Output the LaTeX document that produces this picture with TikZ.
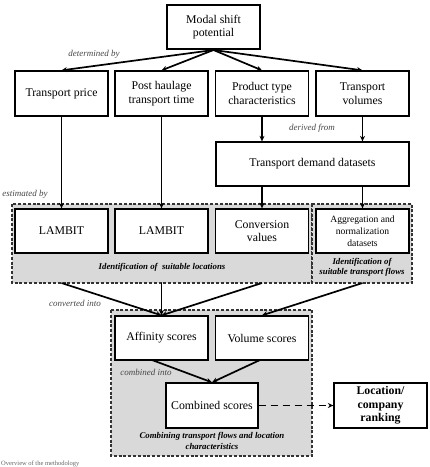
\documentclass[tikz,border=0pt]{standalone}
\usepackage{fontspec}
\setmainfont{Liberation Serif}
\usetikzlibrary{arrows.meta}
\definecolor{regfill}{RGB}{217,217,217}
\definecolor{lblcol}{RGB}{70,70,70}
\tikzset{
  box/.style={draw=black, line width=1.3pt, fill=white, minimum width=93pt, minimum height=45pt, align=center, inner sep=1pt, font=\fontsize{11.8}{13.5}\selectfont},
  region/.style={draw=black!80, line width=1.1pt, dash pattern=on 3pt off 1.8pt, fill=regfill},
  arr/.style={line width=1.7pt, -{Stealth[length=5.5pt,width=5pt]}},
  lbl/.style={font=\fontsize{9}{10}\selectfont\itshape, text=lblcol},
  rlbl/.style={font=\fontsize{8.8}{10.5}\selectfont\bfseries\itshape, align=center},
}
\begin{document}
\begin{tikzpicture}[x=1pt,y=-1pt]
\useasboundingbox (0,0) rectangle (430,467);
% regions
\draw[region] (12,204) rectangle (312,283);
\draw[region] (312,204) rectangle (412,283);
\draw[region] (111,310) rectangle (312,456);
% nodes
\node[box, minimum height=44pt] (msp) at (213.5,27) {Modal shift\\potential};
\node[box] (tp) at (61.5,93.5) {Transport price};
\node[box] (ph) at (161.5,93.5) {Post haulage\\transport time};
\node[box] (pt) at (262,93.5) {Product type\\characteristics};
\node[box] (tv) at (362.5,93.5) {Transport\\volumes};
\node[box, minimum width=193pt, minimum height=44pt] (tdd) at (312.5,164) {Transport demand datasets};
\node[box, minimum height=44pt] (l1) at (61.5,231) {LAMBIT};
\node[box, minimum height=44pt] (l2) at (161.5,231) {LAMBIT};
\node[box, minimum height=44pt] (cv) at (262,231) {Conversion\\values};
\node[box, minimum height=44pt, font=\fontsize{9.6}{12}\selectfont] (ag) at (362.5,231) {Aggregation and\\normalization\\datasets};
\node[box, minimum height=44pt] (af) at (161.5,338) {Affinity scores};
\node[box, minimum height=44pt] (vs) at (262,338) {Volume scores};
\node[box, minimum width=92pt] (cs) at (212,405.5) {Combined scores};
\node[box, font=\fontsize{11.8}{13.5}\selectfont\bfseries] (lc) at (380.5,405.5) {Location/\\company\\ranking};
% region labels
\node[rlbl] (r1) at (162,267) {Identification of\ \ suitable locations};
\node[rlbl] (r2) at (362,267.5) {Identification of\\suitable transport flows};
\node[rlbl] (r3) at (212,441) {Combining transport flows and location\\characteristics};
% connector labels
\node[lbl] (t1) at (94,54) {determined by};
\node[lbl] (t2) at (312,128) {derived from};
\node[lbl] (t3) at (25,194) {estimated by};
\node[lbl] (t4) at (75,303) {converted into};
\node[lbl] (t5) at (146,372) {combined into};
% coordinates
\coordinate (m0) at (213.5,50);
\coordinate (o1) at (61.5,283);
\coordinate (o2) at (161.5,283);
\coordinate (o3) at (262,283);
\coordinate (o4) at (362.5,283);
\coordinate (a1) at (152,360);
\coordinate (v1) at (260,360);
% connectors
\draw[arr] (m0) -- (tp.north);
\draw[arr] (m0) -- (ph.north);
\draw[arr] (m0) -- (pt.north);
\draw[arr] (m0) -- (tv.north);
\draw[arr] (tp.south) -- (l1.north);
\draw[arr] (ph.south) -- (l2.north);
\draw[arr] (pt.south) -- (pt.south |- tdd.north);
\draw[arr] (tv.south) -- (tv.south |- tdd.north);
\draw[arr] (pt.south |- tdd.south) -- (cv.north);
\draw[arr] (tv.south |- tdd.south) -- (ag.north);
\draw[arr] (o1) -- (af.north);
\draw[arr] (o2) -- (af.north);
\draw[arr] (o3) -- (af.north);
\draw[arr] (o4) -- (vs.north);
\draw[arr] (a1) -- (cs.north);
\draw[arr] (v1) -- (cs.north);
\draw[line width=1.7pt, dash pattern=on 7pt off 5pt, -{Stealth[length=5.5pt,width=5pt]}] (cs.east) -- (lc.west);
% caption
\node[anchor=base west, font=\fontsize{6.5}{7}\selectfont, text=black!60, inner sep=0pt] (cap) at (1,465) {Overview of the methodology};
\end{tikzpicture}
\end{document}
